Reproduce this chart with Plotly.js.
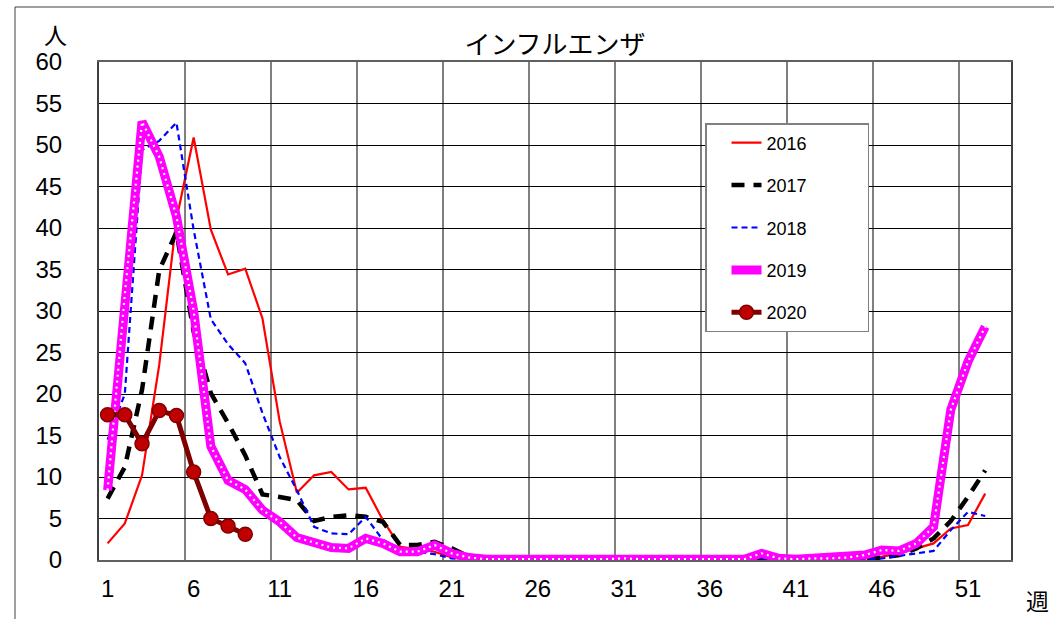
<!DOCTYPE html>
<html>
<head>
<meta charset="utf-8">
<script src="https://cdn.plot.ly/plotly-3.0.1.min.js"></script>
<style>html,body{margin:0;padding:0;background:#fff;}#chart{width:1054px;height:619px;}</style>
</head>
<body>
<div id="chart"></div>
<script>
const weeks = Array.from({length: 52}, (_, i) => i + 1);
const weeks2020 = [1, 2, 3, 4, 5, 6, 7, 8, 9];
const tickWeeks = [1, 6, 11, 16, 21, 26, 31, 36, 41, 46, 51];
const gridWeeks = [0.5, 5.5, 10.5, 15.5, 20.5, 25.5, 30.5, 35.5, 40.5, 45.5, 50.5];
const seriesNames = ["2016", "2017", "2018", "2019", "2020"];

const y2016 = [2.0, 4.4, 10.2, 23.5, 41.0, 50.9, 39.8, 34.4, 35.1, 29.1, 16.7, 8.1, 10.2, 10.6, 8.5, 8.7, 4.8, 1.6, 1.3, 1.0,
  0.3, 0, 0, 0, 0, 0, 0, 0, 0, 0, 0, 0, 0, 0, 0, 0, 0, 0, 0, 0,
  0, 0, 0, 0, 0.2, 0.4, 0.8, 1.4, 2.0, 3.8, 4.2, 8.0];
const y2017 = [7.4, 11.2, 20.5, 34.9, 39.5, 27.5, 20.1, 16.5, 12.6, 7.9, 7.6, 7.2, 4.7, 5.2, 5.4, 5.2, 4.6, 1.8, 1.8, 2.2,
  1.4, 0.4, 0, 0, 0, 0, 0, 0, 0, 0, 0, 0, 0, 0, 0, 0.1, 0, 0, 0, 0,
  0, 0, 0, 0, 0.1, 0.3, 0.6, 1.4, 2.6, 4.7, 7.6, 10.8];
const y2018 = [14.5, 20.0, 49.4, 50.5, 52.7, 39.8, 29.0, 26.0, 23.7, 17.7, 12.4, 8.4, 4.0, 3.2, 3.1, 5.2, 2.4, 1.4, 1.0, 0.7,
  0.2, 0, 0, 0, 0, 0, 0, 0, 0, 0, 0, 0, 0, 0, 0, 0, 0, 0, 0, 0,
  0, 0, 0, 0, 0, 0.2, 0.5, 0.8, 1.1, 3.6, 5.8, 5.3];
const y2019 = [8.4, 32.0, 52.8, 48.6, 41.4, 30.0, 13.7, 9.6, 8.5, 6.0, 4.6, 2.7, 2.1, 1.5, 1.4, 2.6, 2.0, 1.0, 1.0, 1.8,
  0.8, 0.3, 0.1, 0.1, 0.1, 0.1, 0.1, 0.1, 0.1, 0.1, 0.2, 0.1, 0.1, 0.1, 0.1, 0.1, 0.1, 0.1, 0.8, 0.2,
  0.1, 0.2, 0.2, 0.3, 0.6, 1.2, 1.1, 2.0, 4.0, 18.1, 23.9, 28.1];
const y2020 = [17.5, 17.5, 14.0, 18.0, 17.4, 10.6, 5.0, 4.1, 3.1];

const yTicks = [0, 5, 10, 15, 20, 25, 30, 35, 40, 45, 50, 55, 60];

const pad = '\u00a0'.repeat(11);
const traces = [
  {x: weeks, y: y2016, name: seriesNames[0] + pad, legendgroup: 'a', mode: 'lines',
   line: {color: '#FF0000', width: 2.2}},
  {x: weeks, y: y2017, name: seriesNames[1] + pad, legendgroup: 'b', mode: 'lines',
   line: {color: '#000000', width: 4.5, dash: '13px,9px'}},
  {x: weeks, y: y2018, name: seriesNames[2] + pad, legendgroup: 'c', mode: 'lines',
   line: {color: '#0000FF', width: 2.2, dash: '6px,4px'}},
  {x: weeks, y: y2019, name: seriesNames[3] + pad, legendgroup: 'd', mode: 'lines',
   line: {color: '#FF00FF', width: 9}},
  {x: weeks, y: y2019, name: seriesNames[3], legendgroup: 'd', mode: 'lines', showlegend: false, hoverinfo: 'skip',
   line: {color: '#FFFFFF', width: 2.2, dash: '2px,4px'}},
  {x: weeks2020, y: y2020, name: seriesNames[4] + pad, legendgroup: 'e', mode: 'lines+markers',
   line: {color: '#800000', width: 5},
   marker: {symbol: 'circle', size: 14, color: '#C00000', line: {color: '#800000', width: 1.5}}},
  {x: [], y: [], xaxis: 'x2', showlegend: false, mode: 'markers', hoverinfo: 'skip'}
];

const tickFont = {family: 'Liberation Sans, Arial, sans-serif', size: 24, color: '#000'};

const layout = {
  width: 1054, height: 619,
  margin: {l: 99, r: 43, t: 62, b: 59},
  paper_bgcolor: '#fff', plot_bgcolor: '#fff',
  showlegend: true,
  title: {text: 'インフルエンザ', x: 0.5, xref: 'paper', y: 1 - 45/619, yanchor: 'middle',
    font: {family: 'Noto Sans CJK JP, sans-serif', size: 26, color: '#000'}},
  xaxis: {
    range: [0.5, 53.5], tickvals: gridWeeks, showticklabels: false, ticks: '',
    showgrid: true, gridcolor: '#808080', gridwidth: 2,
    showline: true, linecolor: '#606060', linewidth: 2, mirror: true,
    zeroline: false, fixedrange: true
  },
  xaxis2: {
    overlaying: 'x', anchor: 'y', side: 'bottom',
    range: [0.5, 53.5], tickvals: tickWeeks, ticks: '', ticklabelstandoff: 12,
    showgrid: false, showline: false, zeroline: false, tickfont: tickFont, fixedrange: true
  },
  yaxis: {
    range: [0, 60], tickvals: yTicks, ticks: '',
    ticklabelstandoff: 30,
    showgrid: true, gridcolor: '#000', gridwidth: 1,
    showline: true, linecolor: '#404040', linewidth: 2, mirror: true,
    zeroline: false, tickfont: tickFont, fixedrange: true
  },
  legend: {
    x: (705 - 99) / 912, y: (560 - 123) / 498, xanchor: 'left', yanchor: 'top',
    bgcolor: '#fff', bordercolor: '#808080', borderwidth: 1.5,
    font: {family: 'Liberation Sans, Arial, sans-serif', size: 18, color: '#000'},
    tracegroupgap: 16, traceorder: 'grouped', indentation: 20
  },
  annotations: [
    {text: '人', xref: 'paper', yref: 'paper', x: (55 - 99) / 912, y: (560 - 34) / 498,
     showarrow: false, xanchor: 'center', yanchor: 'middle',
     font: {family: 'Noto Sans CJK JP, sans-serif', size: 23, color: '#000'}},
    {text: '週', xref: 'paper', yref: 'paper', x: (1037 - 99) / 912, y: (560 - 600) / 498,
     showarrow: false, xanchor: 'center', yanchor: 'middle',
     font: {family: 'Noto Sans CJK JP, sans-serif', size: 23, color: '#000'}}
  ],
  shapes: [
    {type: 'rect', xref: 'paper', yref: 'paper', x0: (15 - 99) / 912, x1: 1.2, y0: -0.3, y1: (560 - 7) / 498,
     line: {color: '#404040', width: 1}, fillcolor: 'rgba(0,0,0,0)', layer: 'below'}
  ]
};

Plotly.newPlot('chart', traces, layout, {displayModeBar: false, staticPlot: true});
</script>
</body>
</html>
